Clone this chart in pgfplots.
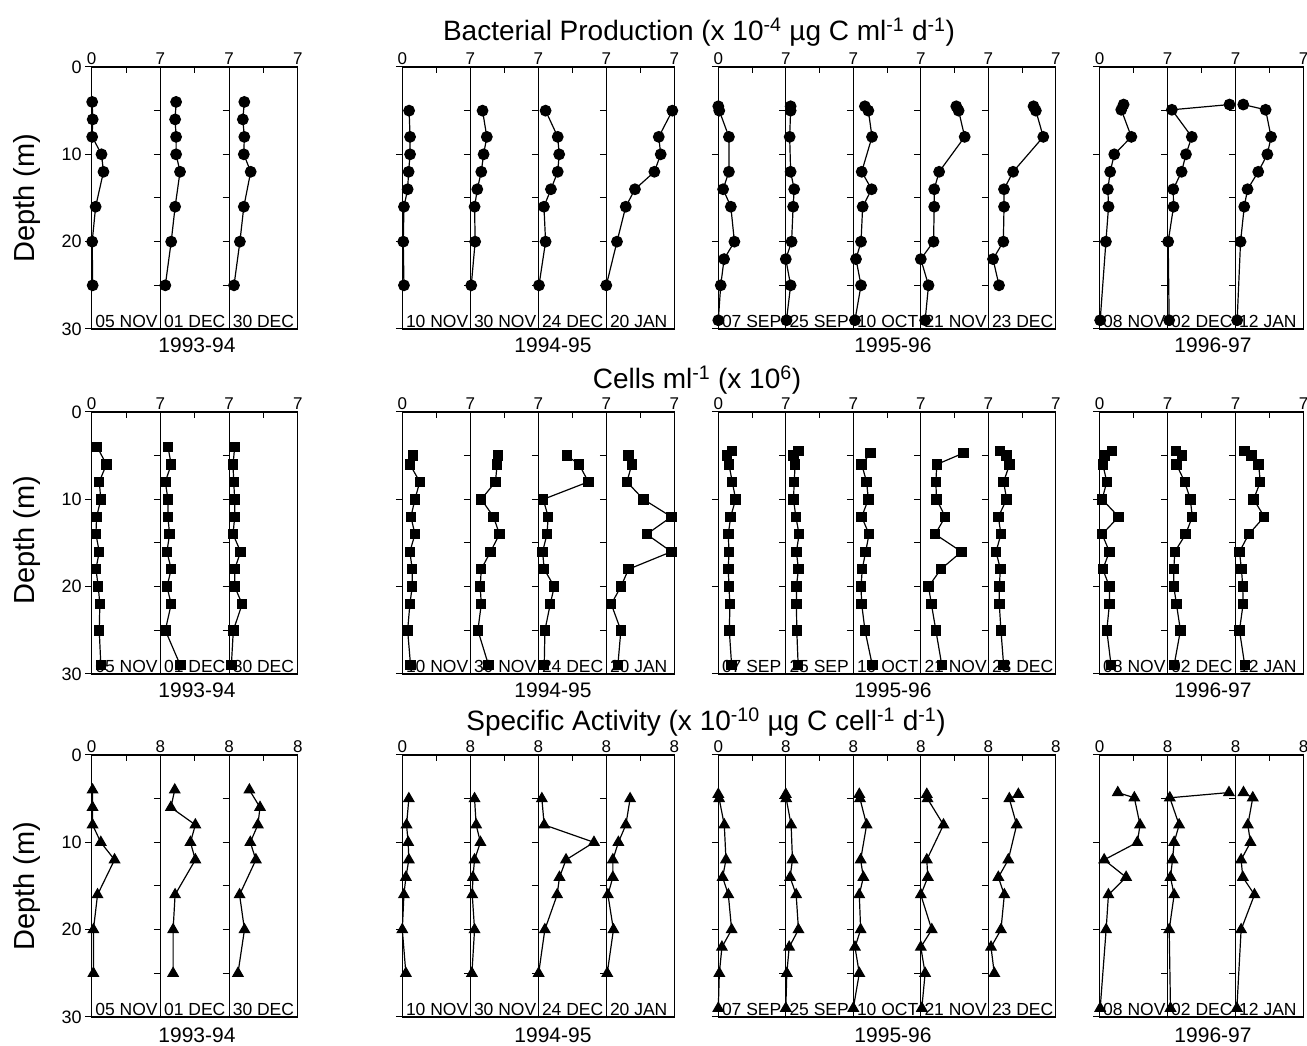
\documentclass[border=0pt]{standalone}
\usepackage{fontspec}
\setmainfont{Liberation Sans}
\usepackage{pgfplots}
\pgfplotsset{compat=1.18}
\pgfplotsset{
  base/.style={scale only axis, height=262pt, ymin=0, ymax=30, y dir=reverse, xmin=0,
    clip=false, axis line style={line width=1.1pt},
    xtick pos=right, xticklabel pos=right, xtick align=inside,
    ytick pos=left, ytick align=outside,
    major tick length=6.5pt, tick style={line width=1pt, black},
    xticklabel style={font=\fontsize{17}{17}\selectfont, inner sep=1pt, yshift=1pt},
    yticklabel style={font=\fontsize{18}{18}\selectfont},
    /pgf/number format/assume math mode=true,
    every axis plot/.append style={line width=1.2pt, black, mark options={solid, fill=black}},
  },
  fA/.style={xmax=7, xtick={0,3.5,7}, xticklabels={0,{},7}},
  oA/.style={xmax=7, xtick={0,3.5,7}, xticklabels={{},{},7}},
  fB/.style={xmax=8, xtick={0,4,8}, xticklabels={0,{},8}},
  oB/.style={xmax=8, xtick={0,4,8}, xticklabels={{},{},8}},
  ylab/.style={ytick={0,10,20,30}, yticklabels={0,10,20,30}},
  yfirst/.style={ytick={0,10,20,30}, yticklabels={}},
  yother/.style={ytick={5,10,15,20,25}, yticklabels={}},
  mC/.style={mark=*, mark size=5.3pt},
  mS/.style={mark=square*, mark size=4.6pt},
  mT/.style={mark=triangle*, mark size=5.8pt},
}
\newcommand{\datefont}{\fontsize{17.5}{17.5}\selectfont}
\newcommand{\panel}[7]{%
 \begin{axis}[base, at={(#1pt,#2pt)}, anchor=north west, width=#3pt, #4]
 \addplot[#5] coordinates {#6};
 \node[anchor=south west, font=\datefont, inner sep=0pt, xshift=3.5pt, yshift=1.5pt] at (axis description cs:0,0) {#7};
 \end{axis}}
\begin{document}
\begin{tikzpicture}[x=1pt,y=1pt]
\path[use as bounding box] (0,0) rectangle (1307,1046);
% ---------------- Row 1: Bacterial production ----------------
\panel{91.7}{979}{68.7}{fA,ylab}{mC}{(0.05,4)(0.1,6)(0.05,8)(1.0,10)(1.2,12)(0.4,16)(0.05,20)(0.1,25)}{05 NOV}
\panel{160.4}{979}{68.7}{oA,yother}{mC}{(1.6,4)(1.5,6)(1.6,8)(1.6,10)(2.0,12)(1.5,16)(1.1,20)(0.5,25)}{01 DEC}
\panel{229.1}{979}{68.7}{oA,yother}{mC}{(1.55,4)(1.4,6)(1.55,8)(1.5,10)(2.2,12)(1.5,16)(1.1,20)(0.5,25)}{30 DEC}
\panel{402.3}{979}{68}{fA,yfirst}{mC}{(0.7,5)(0.8,8)(0.8,10)(0.65,12)(0.55,14)(0.17,16)(0.1,20)(0.17,25)}{10 NOV}
\panel{470.3}{979}{68}{oA,yother}{mC}{(1.26,5)(1.7,8)(1.37,10)(1.13,12)(0.72,14)(0.44,16)(0.5,20)(0.1,25)}{30 NOV}
\panel{538.3}{979}{68}{oA,yother}{mC}{(0.75,5)(2.0,8)(2.15,10)(2.0,12)(1.3,14)(0.58,16)(0.75,20)(0.07,25)}{24 DEC}
\panel{606.3}{979}{68}{oA,yother}{mC}{(6.8,5)(5.4,8)(5.6,10)(4.95,12)(2.95,14)(2.0,16)(1.1,20)(0,25)}{20 JAN}
\panel{718.3}{979}{67.5}{fA,yfirst}{mC}{(0,4.5)(0.1,5)(1.1,8)(1.1,12)(0.5,14)(1.3,16)(1.67,20)(0.6,22)(0.25,25)(0,29)}{07 SEP}
\panel{785.8}{979}{67.5}{oA,yother}{mC}{(0.5,4.5)(0.5,5)(0.4,8)(0.5,12)(0.87,14)(0.76,16)(0.6,20)(0,22)(0.5,25)(0.07,29)}{25 SEP}
\panel{853.3}{979}{67.5}{oA,yother}{mC}{(1.2,4.5)(1.56,5)(1.94,8)(0.87,12)(1.9,14)(0.97,16)(0.8,20)(0.28,22)(0.8,25)(0.17,29)}{10 OCT}
\panel{920.8}{979}{67.5}{oA,yother}{mC}{(3.68,4.5)(3.92,5)(4.55,8)(1.9,12)(1.39,14)(1.39,16)(1.32,20)(0,22)(0.8,25)(0.45,29)}{21 NOV}
\panel{988.3}{979}{67.5}{oA,yother}{mC}{(4.69,4.5)(4.93,5)(5.7,8)(2.57,12)(1.63,14)(1.63,16)(1.56,20)(0.49,22)(1.11,25)}{23 DEC}
\panel{1099.5}{979}{68}{fA,yfirst}{mC}{(2.48,4.3)(2.24,4.9)(3.28,8)(1.52,10)(1.1,12)(0.86,14)(0.93,16)(0.66,20)(0.07,29)}{08 NOV}
\panel{1167.5}{979}{68}{oA,yother}{mC}{(6.38,4.3)(0.45,4.9)(2.5,8)(1.9,10)(1.45,12)(0.59,14)(0.62,16)(0.07,20)(0.17,29)}{02 DEC}
\panel{1235.5}{979}{68}{oA,yother}{mC}{(0.8,4.3)(3.1,4.9)(3.66,8)(3.28,10)(2.34,12)(1.24,14)(0.9,16)(0.52,20)(0.17,29)}{12 JAN}
% ---------------- Row 2: Cells ----------------
\panel{91.7}{634}{68.7}{fA,ylab}{mS}{(0.55,4)(1.5,6)(0.77,8)(0.93,10)(0.5,12)(0.43,14)(0.77,16)(0.43,18)(0.67,20)(0.83,22)(0.77,25)(0.93,29)}{05 NOV}
\panel{160.4}{634}{68.7}{oA,yother}{mS}{(0.77,4)(1.1,6)(0.5,8)(0.77,10)(0.77,12)(0.93,14)(0.67,16)(1.1,18)(0.67,20)(1.1,22)(0.5,25)(2.03,29)}{01 DEC}
\panel{229.1}{634}{68.7}{oA,yother}{mS}{(0.57,4)(0.4,6)(0.47,8)(0.57,10)(0.57,12)(0.4,14)(1.17,16)(0.57,18)(0.57,20)(1.33,22)(0.43,25)(0.23,29)}{30 DEC}
\panel{402.3}{634}{68}{fA,yfirst}{mS}{(1.13,5)(0.78,6)(1.8,8)(1.3,10)(0.89,12)(1.3,14)(0.78,16)(1.02,18)(1.02,20)(0.78,22)(0.55,25)(0.85,29)}{10 NOV}
\panel{470.3}{634}{68}{oA,yother}{mS}{(2.83,5)(2.76,6)(2.59,8)(1.13,10)(2.39,12)(3.0,14)(2.08,16)(1.13,18)(1.02,20)(1.13,22)(0.78,25)(1.88,29)}{30 NOV}
\panel{538.3}{634}{68}{oA,yother}{mS}{(2.94,5)(4.2,6)(5.15,8)(0.51,10)(1.02,12)(0.89,14)(0.44,16)(0.61,18)(1.64,20)(1.23,22)(0.68,25)(0.61,29)}{24 DEC}
\panel{606.3}{634}{68}{oA,yother}{mS}{(2.29,5)(2.63,6)(2.12,8)(3.82,10)(6.7,12)(4.16,14)(6.7,16)(2.29,18)(1.5,20)(0.51,22)(1.5,25)(1.19,29)}{20 JAN}
\panel{718.3}{634}{67.5}{fA,yfirst}{mS}{(1.45,4.5)(0.93,5)(1.1,6)(1.45,8)(1.8,10)(1.28,12)(1.04,14)(1.1,16)(1.04,18)(1.1,20)(1.21,22)(1.14,25)(1.38,29)}{07 SEP}
\panel{785.8}{634}{67.5}{oA,yother}{mS}{(1.31,4.5)(0.8,5)(0.97,6)(0.87,8)(0.8,10)(1.04,12)(1.38,14)(1.1,16)(1.31,18)(1.1,20)(1.1,22)(1.14,25)(1.28,29)}{25 SEP}
\panel{853.3}{634}{67.5}{oA,yother}{mS}{(1.8,4.7)(0.87,6)(1.38,8)(1.56,10)(0.87,12)(1.63,14)(1.28,16)(0.93,18)(0.8,20)(0.87,22)(1.21,25)(1.97,29)}{10 OCT}
\panel{920.8}{634}{67.5}{oA,yother}{mS}{(4.43,4.7)(1.66,6)(1.56,8)(1.63,10)(2.53,12)(1.49,14)(4.22,16)(2.08,18)(0.8,20)(1.1,22)(1.56,25)(2.18,29)}{21 NOV}
\panel{988.3}{634}{67.5}{oA,yother}{mS}{(1.2,4.5)(1.9,5)(2.2,6)(1.59,8)(1.9,10)(1.04,12)(1.31,14)(0.8,16)(1.25,18)(1.14,20)(1.14,22)(1.31,25)(1.59,29)}{23 DEC}
\panel{1099.5}{634}{68}{fA,yfirst}{mS}{(1.29,4.5)(0.51,5)(0.34,6)(0.75,8)(0.27,10)(1.97,12)(0.27,14)(1.02,16)(0.34,18)(1.02,20)(1.02,22)(0.75,25)(1.19,29)}{08 NOV}
\panel{1167.5}{634}{68}{oA,yother}{mS}{(0.85,4.5)(1.5,5)(0.92,6)(1.77,8)(2.35,10)(2.55,12)(1.87,14)(0.75,16)(0.65,18)(0.65,20)(0.92,22)(1.33,25)(0.68,29)}{02 DEC}
\panel{1235.5}{634}{68}{oA,yother}{mS}{(0.92,4.5)(1.63,5)(2.38,6)(2.55,8)(1.87,10)(2.96,12)(1.36,14)(0.41,16)(0.61,18)(0.75,20)(0.78,22)(0.41,25)(0.95,29)}{12 JAN}
% ---------------- Row 3: Specific activity ----------------
\panel{91.7}{291}{68.7}{fB,ylab}{mT}{(0.1,4)(0.1,6)(0.1,8)(1.06,10)(2.66,12)(0.68,16)(0.2,20)(0.2,25)}{05 NOV}
\panel{160.4}{291}{68.7}{oB,yother}{mT}{(1.67,4)(1.22,6)(4.07,8)(3.5,10)(4.07,12)(1.71,16)(1.48,20)(1.48,25)}{01 DEC}
\panel{229.1}{291}{68.7}{oB,yother}{mT}{(2.36,4)(3.6,6)(3.35,8)(2.47,10)(3.12,12)(1.22,16)(1.79,20)(1.03,25)}{30 DEC}
\panel{402.3}{291}{68}{fB,yfirst}{mT}{(0.77,5)(0.5,8)(0.69,10)(0.77,12)(0.42,14)(0.19,16)(0.0,20)(0.42,25)}{10 NOV}
\panel{470.3}{291}{68}{oB,yother}{mT}{(0.5,5)(0.69,8)(1.19,10)(0.5,12)(0.31,14)(0.23,16)(0.5,20)(0.19,25)}{30 NOV}
\panel{538.3}{291}{68}{oB,yother}{mT}{(0.42,5)(0.69,8)(6.55,10)(3.26,12)(2.49,14)(2.22,16)(0.77,20)(0.04,25)}{24 DEC}
\panel{606.3}{291}{68}{oB,yother}{mT}{(2.8,5)(2.3,8)(1.42,10)(0.77,12)(0.77,14)(0.19,16)(0.84,20)(0.11,25)}{20 JAN}
\panel{718.3}{291}{67.5}{fB,yfirst}{mT}{(0,4.5)(0.1,5)(0.71,8)(0.91,12)(0.51,14)(1.19,16)(1.58,20)(0.43,22)(0.12,25)(0,29)}{07 SEP}
\panel{785.8}{291}{67.5}{oB,yother}{mT}{(0,4.5)(0.05,5)(0.63,8)(0.79,12)(0.51,14)(1.23,16)(1.5,20)(0.4,22)(0.12,25)(0,29)}{25 SEP}
\panel{853.3}{291}{67.5}{oB,yother}{mT}{(0.71,4.5)(0.79,5)(1.58,8)(0.87,12)(1.19,14)(0.71,16)(0.87,20)(0.2,22)(0.71,25)(0,29)}{10 OCT}
\panel{920.8}{291}{67.5}{oB,yother}{mT}{(0.71,4.5)(0.79,5)(2.69,8)(0.71,12)(0.83,14)(0,16)(1.3,20)(0,22)(0.51,25)(0.12,29)}{21 NOV}
\panel{988.3}{291}{67.5}{oB,yother}{mT}{(3.56,4.5)(2.49,5)(3.36,8)(2.37,12)(1.19,14)(1.9,16)(1.5,20)(0.32,22)(0.71,25)}{23 DEC}
\panel{1099.5}{291}{68}{fB,yfirst}{mT}{(2.15,4.3)(4.1,4.9)(4.77,8)(4.45,10)(0.55,12)(3.13,14)(1.05,16)(0.78,20)(0.08,29)}{08 NOV}
\panel{1167.5}{291}{68}{oB,yother}{mT}{(7.23,4.3)(0.27,4.9)(1.37,8)(0.78,10)(0.59,12)(0.35,14)(0.78,16)(0.2,20)(0.35,29)}{02 DEC}
\panel{1235.5}{291}{68}{oB,yother}{mT}{(0.94,4.3)(2.03,4.9)(1.45,8)(1.76,10)(0.66,12)(0.86,14)(2.23,16)(0.66,20)(0.16,29)}{12 JAN}
% ---------------- Titles and labels ----------------
\node[font=\fontsize{28}{28}\selectfont] at (699,1014) {Bacterial Production (x 10\textsuperscript{-4} µg C ml\textsuperscript{-1} d\textsuperscript{-1})};
\node[font=\fontsize{28}{28}\selectfont] at (697,666) {Cells ml\textsuperscript{-1} (x 10\textsuperscript{6})};
\node[font=\fontsize{28}{28}\selectfont] at (706,324) {Specific Activity (x 10\textsuperscript{-10} µg C cell\textsuperscript{-1} d\textsuperscript{-1})};
\foreach \yy in {848,506,160}{\node[rotate=90, font=\fontsize{29}{29}\selectfont] at (27.5,\yy) {Depth (m)};}
\foreach \yy in {701,356,11}{
  \node[font=\fontsize{21}{21}\selectfont] at (197,\yy) {1993-94};
  \node[font=\fontsize{21}{21}\selectfont] at (553,\yy) {1994-95};
  \node[font=\fontsize{21}{21}\selectfont] at (893,\yy) {1995-96};
  \node[font=\fontsize{21}{21}\selectfont] at (1213,\yy) {1996-97};
}
\end{tikzpicture}
\end{document}
